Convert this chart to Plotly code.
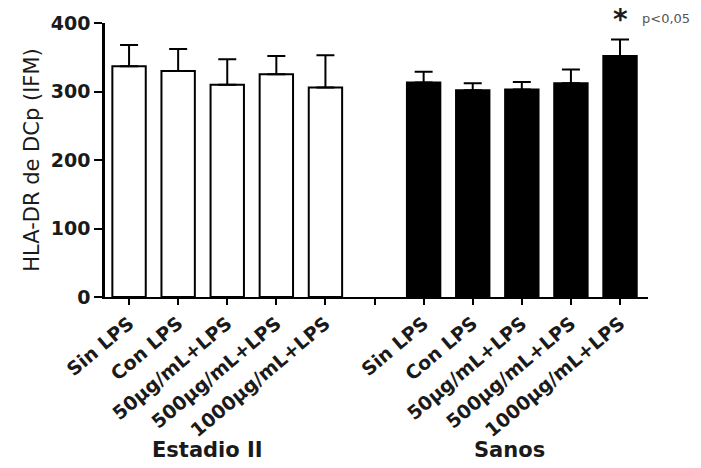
import plotly.graph_objects as go

categories = ["Sin LPS", "Con LPS", "50µg/mL+LPS", "500µg/mL+LPS", "1000µg/mL+LPS"]
estadio_vals = [337, 330, 310, 325, 306]
estadio_err = [31, 32, 37, 27, 47]
sanos_vals = [313, 302, 303, 312, 352]
sanos_err = [16, 10, 11, 20, 24]
group_labels = ["Estadio II", "Sanos"]
y_ticks = [0, 100, 200, 300, 400]

FONT = "DejaVu Sans"
x_est = list(range(0, 5))
x_san = list(range(6, 11))

fig = go.Figure()
fig.add_trace(go.Bar(
    x=x_est, y=estadio_vals, width=0.68,
    marker=dict(color="white", line=dict(color="black", width=2)),
    error_y=dict(type="data", array=estadio_err, arrayminus=[0]*5, symmetric=False,
                 color="black", thickness=2, width=9),
    showlegend=False))
fig.add_trace(go.Bar(
    x=x_san, y=sanos_vals, width=0.68,
    marker=dict(color="black", line=dict(color="black", width=2)),
    error_y=dict(type="data", array=sanos_err, arrayminus=[0]*5, symmetric=False,
                 color="black", thickness=2, width=9),
    showlegend=False))

ticktext = categories + [""] + categories
fig.update_xaxes(
    range=[-0.49, 10.57], tickmode="array", tickvals=list(range(11)), ticktext=ticktext,
    tickangle=-40, ticks="outside", ticklen=6, tickwidth=2, tickcolor="black",
    showline=True, linecolor="black", linewidth=2, showgrid=False, zeroline=False,
    tickfont=dict(family=FONT, size=19, color="#1a1a1a", weight="bold"))
fig.update_yaxes(
    range=[0, 400], tickvals=y_ticks, ticks="outside", ticklen=8, tickwidth=2,
    tickcolor="black", showline=True, linecolor="black", linewidth=2.5,
    showgrid=False, zeroline=False,
    tickfont=dict(family=FONT, size=19, color="#1a1a1a", weight="bold"),
    title=dict(text="HLA-DR de DCp (IFM)", font=dict(family=FONT, size=21, color="#1a1a1a"),
               standoff=6))

annotations = [
    dict(x=1.6, y=-0.56, xref="x", yref="paper", text=group_labels[0], showarrow=False,
         yanchor="middle",
         font=dict(family=FONT, size=21, color="#1a1a1a", weight="bold")),
    dict(x=7.74, y=-0.56, xref="x", yref="paper", text=group_labels[1], showarrow=False,
         yanchor="middle",
         font=dict(family=FONT, size=21, color="#1a1a1a", weight="bold")),
    dict(x=10, y=sanos_vals[4] + sanos_err[4] + 2, xref="x", yref="y", text="*",
         showarrow=False, yanchor="bottom",
         font=dict(family=FONT, size=28, color="#1a1a1a", weight="bold")),
    dict(x=0.985, y=1.015, xref="paper", yref="paper", text="p<0,05", showarrow=False,
         xanchor="left", yanchor="middle",
         font=dict(family=FONT, size=13, color="#555555")),
]

fig.update_layout(
    width=701, height=468, margin=dict(l=105, r=53, t=20, b=171),
    plot_bgcolor="white", paper_bgcolor="white", barmode="overlay",
    annotations=annotations)

fig.write_html("out.html")
